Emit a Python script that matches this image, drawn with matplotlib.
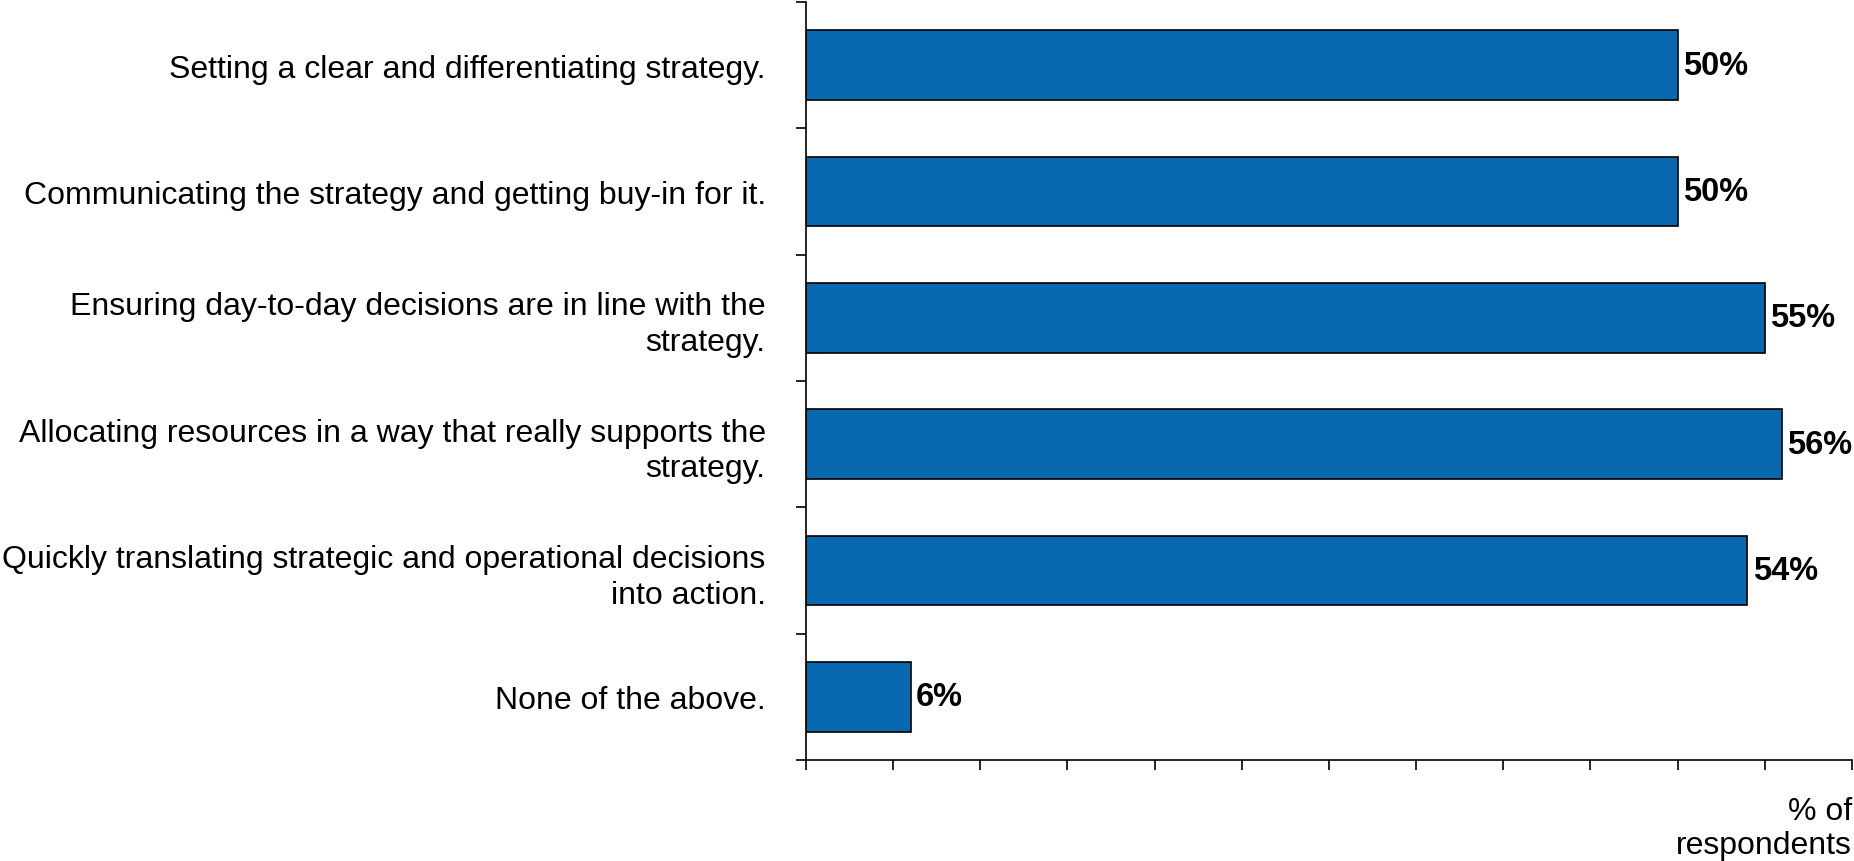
import matplotlib.pyplot as plt
import numpy as np

plt.rcParams['font.family'] = ['Liberation Sans', 'DejaVu Sans']

# Share of respondents naming each area
answers = [
    'Setting a clear and differentiating strategy.',
    'Communicating the strategy and getting buy-in for it.',
    'Ensuring day-to-day decisions are in line with the\nstrategy.',
    'Allocating resources in a way that really supports the\nstrategy.',
    'Quickly translating strategic and operational decisions\ninto action.',
    'None of the above.',
]
shares = [50, 50, 55, 56, 54, 6]

fig = plt.figure(figsize=(18.54, 8.62), dpi=100)
ax = fig.add_axes([0.4347, 0.1172, 0.5642, 0.8793])

y = np.arange(len(answers))
ax.barh(y, shares, height=0.55, color='#0868B0', edgecolor='black', linewidth=1.2)

for yi, v in zip(y, shares):
    ax.text(v + 0.3, yi, f'{v}%', va='center', ha='left',
            fontsize=23.5, fontweight='bold')

ax.set_xlim(0, 60)
ax.set_ylim(len(answers) - 0.5, -0.5)

# boundary ticks without labels, category names on minor ticks
ax.set_xticks(np.arange(0, 61, 5))
ax.set_xticklabels([])
ax.set_yticks(np.arange(len(answers) + 1) - 0.5)
ax.set_yticklabels([])
ax.set_yticks(y, minor=True)
ax.set_yticklabels(answers, minor=True, fontsize=23, ha='right',
                   multialignment='right', linespacing=1.25)
ax.tick_params(axis='y', which='minor', length=0, pad=29)
ax.tick_params(axis='both', which='major', length=7, width=1.2, direction='out')

for side in ['top', 'right']:
    ax.spines[side].set_visible(False)
for side in ['left', 'bottom']:
    ax.spines[side].set_linewidth(1.2)

ax.text(1.0, -0.047, '% of\nrespondents', transform=ax.transAxes,
        ha='right', va='top', fontsize=23, multialignment='right',
        linespacing=1.2)

fig.savefig('out.png', dpi=100)
